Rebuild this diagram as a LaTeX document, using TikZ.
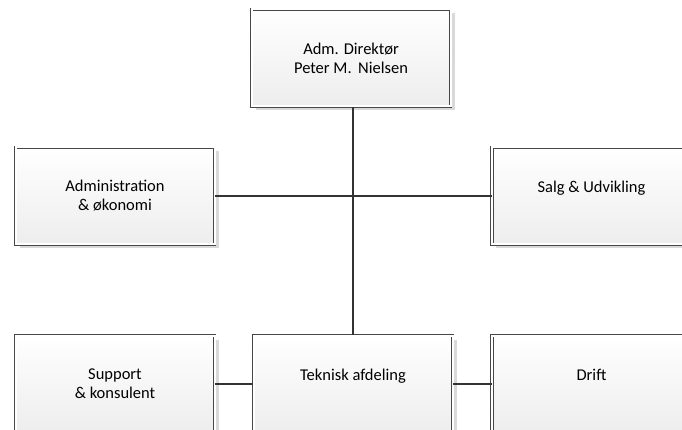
\documentclass[tikz,border=0pt]{standalone}
\usepackage{fontspec}
\setmainfont{Carlito}
\usetikzlibrary{shadows}
\begin{document}
\begin{tikzpicture}[x=1pt,y=-1pt,
  orgbox/.style={draw=black!72, line width=0.9pt, double=white, double distance=2pt,
    top color=white, bottom color=black!7, minimum width=199pt, minimum height=97pt,
    inner sep=0pt, align=center, font=\fontsize{16.5}{19}\selectfont,
    drop shadow={shadow xshift=4pt, shadow yshift=-4pt, fill=black!15, opacity=1}},
  conn/.style={draw=black!80, line width=1.6pt}]
\useasboundingbox (0,0) rectangle (682,430);
\clip (0,0) rectangle (682,430);
\node[orgbox] (dir) at (351,58) {Adm. Direktør\\Peter M.\ \,Nielsen};
\node[orgbox] (adm) at (115,196) {Administration\\\& økonomi};
\node[orgbox] (salg) at (591.5,196) {Salg \& Udvikling\\\mbox{}};
\node[orgbox] (sup) at (115,384) {Support\\\& konsulent};
\node[orgbox] (tek) at (353,384) {Teknisk afdeling\\\mbox{}};
\node[orgbox] (drift) at (591.5,384) {Drift\\\mbox{}};
\draw[conn] (dir.south -| tek.north) -- (tek.north);
\draw[conn] (adm.east) -- (salg.west);
\draw[conn] (sup.east) -- (tek.west);
\draw[conn] (tek.east) -- (drift.west);
\end{tikzpicture}
\end{document}
